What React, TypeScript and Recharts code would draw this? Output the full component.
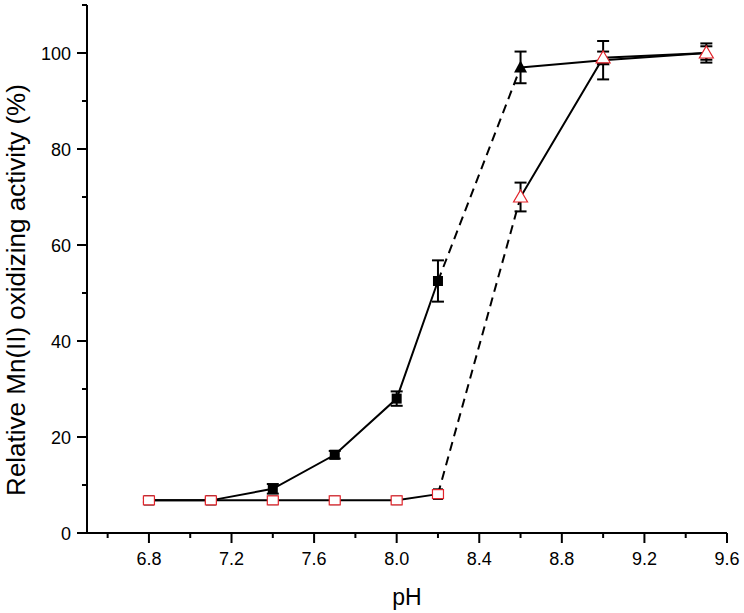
import React from 'react';
import { ComposedChart, Line, XAxis, YAxis, ErrorBar } from 'recharts';

// pH values and relative activity (%) with error (±)
const blackLowPH = [6.8, 7.1, 7.4, 7.7, 8.0, 8.2];
const blackLowVal = [6.8, 6.8, 9.2, 16.3, 28.0, 52.5];
const blackLowErr = [0.4, 0.4, 1.0, 0.8, 1.5, 4.3];

const blackHighPH = [8.6, 9.0, 9.5];
const blackHighVal = [97.0, 98.5, 100.0];
const blackHighErr = [3.3, 4.0, 2.0];

const redLowPH = [6.8, 7.1, 7.4, 7.7, 8.0, 8.2];
const redLowVal = [6.8, 6.8, 6.8, 6.8, 6.8, 8.1];
const redLowErr = [0.8, 0.8, 0.8, 0.8, 0.8, 1.0];

const redHighPH = [8.6, 9.0, 9.5];
const redHighVal = [70.0, 99.0, 100.0];
const redHighErr = [3.0, 1.3, 1.4];

const xTicks = [6.6, 6.8, 7.0, 7.2, 7.4, 7.6, 7.8, 8.0, 8.2, 8.4, 8.6, 8.8, 9.0, 9.2, 9.4, 9.6];
const yTicks = [0, 10, 20, 30, 40, 50, 60, 70, 80, 90, 100, 110];

const xTitle = 'pH';
const yTitle = 'Relative Mn(II) oxidizing activity (%)';

const build = (xs: number[], ys: number[], es: number[]) =>
  xs.map((x, i) => ({ x, y: ys[i], err: es[i] }));

const blackLow = build(blackLowPH, blackLowVal, blackLowErr);
const blackHigh = build(blackHighPH, blackHighVal, blackHighErr);
const redLow = build(redLowPH, redLowVal, redLowErr);
const redHigh = build(redHighPH, redHighVal, redHighErr);
const blackDash = [blackLow[blackLow.length - 1], blackHigh[0]].map((d) => ({ x: d.x, y: d.y }));
const redDash = [redLow[redLow.length - 1], redHigh[0]].map((d) => ({ x: d.x, y: d.y }));

const FONT = '"Liberation Sans", Arial, sans-serif';
const RED = '#e3242b';

const YTick = (props: any) => {
  const { x, y, payload } = props;
  const v = payload.value;
  const major = v % 20 === 0 && v <= 100;
  return (
    <g>
      <line x1={x} x2={x - (major ? 10 : 5)} y1={y} y2={y} stroke="#000" strokeWidth={2} />
      {major && (
        <text x={x - 16} y={y + 6.5} textAnchor="end" style={{ fontSize: 18, fontFamily: FONT }} fill="#000">
          {v}
        </text>
      )}
    </g>
  );
};

const XTick = (props: any) => {
  const { x, y, payload } = props;
  const v = payload.value;
  const major = Math.round(v * 10) % 4 === 0;
  return (
    <g>
      <line x1={x} x2={x} y1={y} y2={y + (major ? 10 : 5)} stroke="#000" strokeWidth={2} />
      {major && (
        <text x={x} y={y + 32} textAnchor="middle" style={{ fontSize: 18, fontFamily: FONT }} fill="#000">
          {v.toFixed(1)}
        </text>
      )}
    </g>
  );
};

const squareFilled = (p: any) => {
  const { cx, cy, index } = p;
  return <rect key={'sf' + index} x={cx - 5} y={cy - 5} width={10} height={10} fill="#000" />;
};
const triFilled = (p: any) => {
  const { cx, cy, index } = p;
  return (
    <path key={'tf' + index} d={`M${cx},${cy - 7}L${cx + 6.5},${cy + 5}L${cx - 6.5},${cy + 5}Z`} fill="#000" />
  );
};
const squareOpen = (p: any) => {
  const { cx, cy, index } = p;
  return (
    <rect key={'so' + index} x={cx - 5.5} y={cy - 4.5} width={11} height={9} fill="#fff" stroke={RED} strokeWidth={1.2} />
  );
};
const triOpen = (p: any) => {
  const { cx, cy, index } = p;
  return (
    <path
      key={'to' + index}
      d={`M${cx},${cy - 7}L${cx + 7},${cy + 5}L${cx - 7},${cy + 5}Z`}
      fill="#fff"
      stroke={RED}
      strokeWidth={1.2}
    />
  );
};

export default function App() {
  return (
    <div style={{ position: 'absolute', left: 0, top: 0, width: 744, height: 613, background: '#fff' }}>
      <ComposedChart width={744} height={613} margin={{ top: 5, right: 17, bottom: 0, left: 0 }}>
        <XAxis
          dataKey="x"
          type="number"
          domain={[6.5, 9.6]}
          ticks={xTicks}
          interval={0}
          allowDataOverflow
          height={80}
          tickSize={0}
          tickMargin={0}
          tick={<XTick />}
          axisLine={{ stroke: '#000', strokeWidth: 2 }}
          tickLine={false}
          label={(p: any) => (
            <text x={407} y={605} textAnchor="middle" style={{ fontSize: 23, fontFamily: FONT }} fill="#000">
              {xTitle}
            </text>
          )}
        />
        <YAxis
          type="number"
          domain={[0, 110]}
          ticks={yTicks}
          interval={0}
          width={87}
          tickSize={0}
          tickMargin={0}
          tick={<YTick />}
          axisLine={{ stroke: '#000', strokeWidth: 2 }}
          tickLine={false}
          label={(p: any) => (
            <text
              x={25}
              y={290}
              transform="rotate(-90 25 290)"
              textAnchor="middle"
              style={{ fontSize: 26, fontFamily: FONT }}
              fill="#000"
            >
              {yTitle}
            </text>
          )}
        />
        <Line data={blackDash} dataKey="y" stroke="#000" strokeWidth={2} strokeDasharray="9 6" dot={false} isAnimationActive={false} />
        <Line data={redDash} dataKey="y" stroke="#000" strokeWidth={2} strokeDasharray="9 6" dot={false} isAnimationActive={false} />
        <Line data={blackLow} dataKey="y" stroke="#000" strokeWidth={2} dot={squareFilled} isAnimationActive={false}>
          <ErrorBar dataKey="err" direction="y" width={6} stroke="#000" strokeWidth={2} isAnimationActive={false} />
        </Line>
        <Line data={redLow} dataKey="y" stroke="#000" strokeWidth={2} dot={squareOpen} isAnimationActive={false}>
          <ErrorBar dataKey="err" direction="y" width={5} stroke="#000" strokeWidth={2} isAnimationActive={false} />
        </Line>
        <Line data={blackHigh} dataKey="y" stroke="#000" strokeWidth={2} dot={triFilled} isAnimationActive={false}>
          <ErrorBar dataKey="err" direction="y" width={6} stroke="#000" strokeWidth={2} isAnimationActive={false} />
        </Line>
        <Line data={redHigh} dataKey="y" stroke="#000" strokeWidth={2} dot={triOpen} isAnimationActive={false}>
          <ErrorBar dataKey="err" direction="y" width={6} stroke="#000" strokeWidth={2} isAnimationActive={false} />
        </Line>
      </ComposedChart>
    </div>
  );
}
